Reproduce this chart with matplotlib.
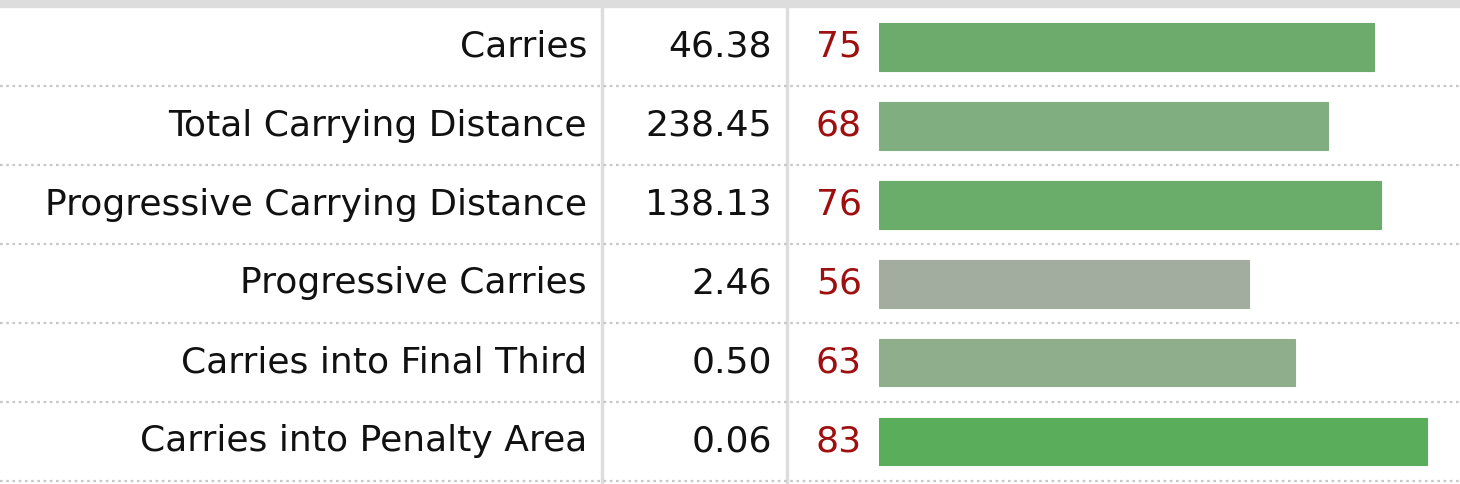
import matplotlib
matplotlib.use("Agg")
import matplotlib.pyplot as plt

# ---- data ----
stats = ["Carries", "Total Carrying Distance", "Progressive Carrying Distance",
         "Progressive Carries", "Carries into Final Third", "Carries into Penalty Area"]
per90 = ["46.38", "238.45", "138.13", "2.46", "0.50", "0.06"]
percentile = [75, 68, 76, 56, 63, 83]
bar_colors = ["#6dab6d", "#80ae80", "#6aad6a", "#a2ad9f", "#8fae8c", "#5aad5a"]

W, H = 1460, 484
fig = plt.figure(figsize=(W / 100, H / 100), dpi=100)
fig.patch.set_facecolor("white")

top_px, row_px, n = 7, 79, len(stats)
y0 = (top_px + row_px / 2)
ylim = ((H - y0) / row_px, (0 - y0) / row_px)

ax = fig.add_axes([0, 0, 1, 1])
ax.set_xlim(0, W)
ax.set_ylim(*ylim)
ax.axis("off")

# bar axes: starts at x=879 px, 6.6 px per percentile point
bx0, ppu = 879, 6.6
bax = fig.add_axes([bx0 / W, 0, (W - bx0) / W, 1])
bax.set_xlim(0, (W - bx0) / ppu)
bax.set_ylim(*ylim)
bax.axis("off")
bax.patch.set_alpha(0)

# top grey band
ax.axhspan(ylim[1], -0.5, color="#dddddd", zorder=1)
# vertical column separators
for xv in (601.5, 787):
    ax.axvline(xv, ymin=0, ymax=1, color="#dddddd", lw=2.5, zorder=1)
# dotted row separators
for i in range(n):
    ax.axhline(i + 0.5, color="#c8c8c8", lw=1.6, ls=(0, (1.2, 1.6)), zorder=1)

font = "DejaVu Sans"
fs = 26
for i in range(n):
    ax.text(587, i, stats[i], ha="right", va="center", fontsize=fs, color="#111111", family=font)
    ax.text(772, i, per90[i], ha="right", va="center", fontsize=fs, color="#111111", family=font)
    ax.text(862, i, str(percentile[i]), ha="right", va="center", fontsize=fs, color="#9e0f0f", family=font)

bax.barh(range(n), percentile, height=48 / row_px, left=0, color=bar_colors,
         edgecolor=bar_colors, linewidth=0.8, zorder=2)

fig.savefig("out.png", dpi=100, facecolor="white")
